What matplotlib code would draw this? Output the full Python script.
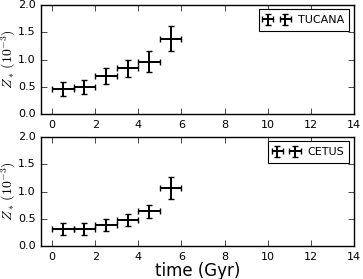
import numpy as np
import matplotlib
matplotlib.use('Agg')
import matplotlib.pyplot as plt

plt.style.use('classic')
plt.rcParams['mathtext.fontset'] = 'cm'
plt.rcParams['font.family'] = 'DejaVu Sans'

t = [0.5, 1.5, 2.5, 3.5, 4.5, 5.5]
dt = [0.5, 0.5, 0.5, 0.5, 0.5, 0.5]

tucana_z = [0.46, 0.49, 0.70, 0.84, 0.96, 1.38]
tucana_err = [0.12, 0.13, 0.14, 0.16, 0.19, 0.23]

cetus_z = [0.32, 0.32, 0.38, 0.48, 0.64, 1.07]
cetus_err = [0.11, 0.11, 0.11, 0.11, 0.12, 0.20]

fig = plt.figure(figsize=(3.63, 2.79), dpi=100)
fig.patch.set_facecolor('white')
ax1 = fig.add_axes([0.114, 0.591, 0.861, 0.391])
ax2 = fig.add_axes([0.114, 0.118, 0.861, 0.391])

for ax, z, err, name in [(ax1, tucana_z, tucana_err, 'TUCANA'),
                         (ax2, cetus_z, cetus_err, 'CETUS')]:
	ax.errorbar(t, z, xerr=dt, yerr=err, fmt='none', ecolor='k', elinewidth=1.4, capsize=2, capthick=1, label=name)
	ax.set_xlim(-0.5, 14)
	ax.set_ylim(0, 2.0)
	ax.set_xticks(np.arange(0, 15, 2))
	ax.set_yticks([0.0, 0.5, 1.0, 1.5, 2.0])
	ax.tick_params(labelsize=8)
	ax.set_ylabel(r'$Z_*\,(10^{-3})$', fontsize=10)
	ax.yaxis.set_label_coords(-0.076, 0.5)
	leg = ax.legend(loc='upper right', fontsize=8, numpoints=2, handlelength=2.2,
	                borderaxespad=0.4, borderpad=0.5)
	leg.get_frame().set_linewidth(0.8)

ax2.set_xlabel('time (Gyr)', fontsize=12, labelpad=0)

fig.savefig('out.png', dpi=100, facecolor='white')
